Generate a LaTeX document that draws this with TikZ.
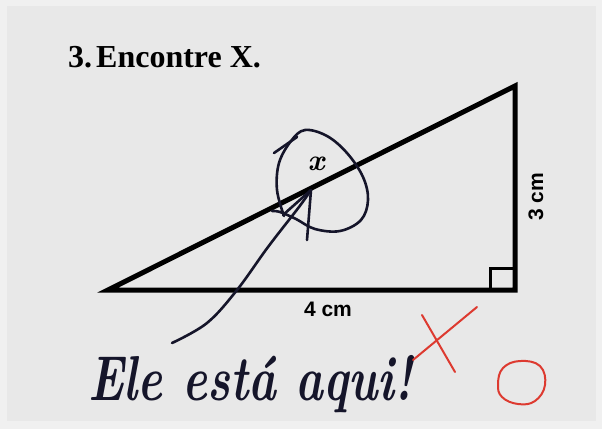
\documentclass[tikz,border=0pt]{standalone}
\usepackage{fontspec}
\setmainfont{Liberation Serif}
\setsansfont{Liberation Sans}
\newfontfamily\handfont{Latin Modern Roman}
\usetikzlibrary{positioning}

\definecolor{paper}{HTML}{E8E8E8}
\definecolor{paperedge}{HTML}{F0F0F0}
\definecolor{ink}{HTML}{15152A}
\definecolor{pen}{HTML}{DD3A30}

\begin{document}
\begin{tikzpicture}[x=1pt,y=-1pt,
  side/.style={line width=5pt,line join=miter},
  scrawl/.style={ink,line width=2.6pt,line cap=round,line join=round},
  redmark/.style={pen,line width=2pt,line cap=round,line join=round},
  dimlabel/.style={font=\sffamily\bfseries\fontsize{21}{24}\selectfont,inner sep=0pt}]
% background
\fill[paperedge] (0,0) rectangle (602,429);
\fill[paper] (7,6) rectangle (596,421);
\useasboundingbox (0,0) rectangle (602,429);
% title
\node (title) [anchor=base west,inner sep=0pt,font=\bfseries\fontsize{32}{36}\selectfont] at (68,67) {3.\hspace{4pt}Encontre X.};
% triangle
\coordinate (A) at (108,290);
\coordinate (B) at (515,290);
\coordinate (C) at (515,86);
\draw[side] (A) -- (B) -- (C) -- cycle;
\draw[line width=3pt] (490,290) |- (515,268);
\node (base) [dimlabel] at (328,309) {4 cm};
\node (height) [dimlabel,rotate=90] at (536,197) {3 cm};
\node (xlabel) [inner sep=0pt,font=\handfont\bfseries\itshape\fontsize{30}{30}\selectfont] at (316,164) {x};
% the scribbles
\draw[scrawl] plot[smooth,tension=0.6] coordinates {(284,216) (277,190) (279,163) (291,141) (305,130) (327,136) (347,153) (363,177) (368,200) (361,220) (340,231) (315,229) (296,219) (280,212) (272,211)};
\draw[scrawl] (274,153) -- (297,137);
\coordinate (tip) at (311,190);
\draw[scrawl] plot[smooth,tension=0.6] coordinates {(172,343) (207,323) (237,290) (268,247) (299,207) (tip)};
\draw[scrawl] (283,215) -- (tip) -- (307,240);
\node (note) [anchor=base west,inner sep=0pt,ink,font=\handfont\bfseries\itshape\fontsize{47}{52}\selectfont] at (88,400) {\scalebox{1}[1.35]{Ele está aqui!}};
% red marks
\draw[redmark] (413,360) -- (477,307);
\draw[redmark] (422,315) -- (455,372);
\draw[redmark] plot[smooth cycle,tension=0.7] coordinates {(498,384) (503,368) (520,361) (540,366) (545,385) (535,401) (518,404) (502,397)};
\end{tikzpicture}
\end{document}
